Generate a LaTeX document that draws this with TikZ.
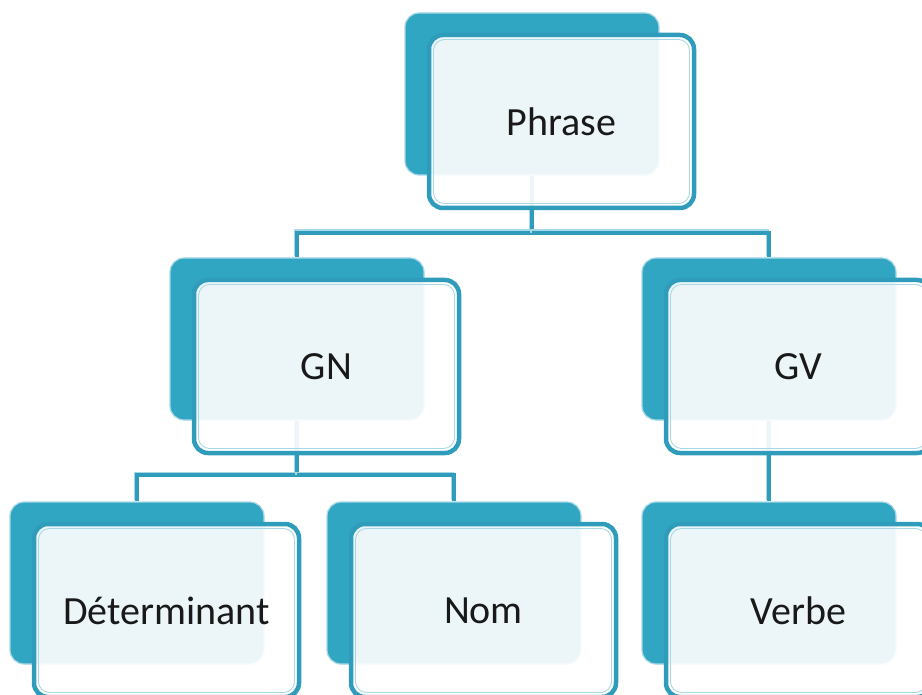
\documentclass[tikz,border=0pt]{standalone}
\usepackage{fontspec}
\setmainfont{Carlito}
\usetikzlibrary{backgrounds}
\definecolor{tealA}{HTML}{31A6C3}
\definecolor{tealB}{HTML}{2E9CBA}
\definecolor{tealL}{HTML}{A8D8E6}
\begin{document}
\begin{tikzpicture}[x=1pt,y=1pt,
 backbox/.style={rounded corners=14pt, fill=tealA, draw=tealL, line width=1.2pt, minimum width=254pt, minimum height=162pt, inner sep=0pt},
 frontbox/.style={rounded corners=14pt, fill=white, fill opacity=0.91, text opacity=1, draw=tealB, draw opacity=1, line width=4.5pt, minimum width=265pt, minimum height=173pt, inner sep=0pt, font=\fontsize{40}{48}\selectfont, text=black!90},
 innerbox/.style={rounded corners=11pt, draw=tealL, line width=0.9pt, minimum width=256pt, minimum height=164pt, inner sep=0pt},
 conn/.style={draw=tealB, line width=3.8pt, preaction={draw=tealL, line width=3.8pt, transform canvas={shift={(-1.6,1.6)}}}}
]
\useasboundingbox (0,0) rectangle (922,-695);
% Phrase
\node[backbox] (pb) at (532,-94) {};
\node[frontbox] (pf) at (561.5,-121.5) {Phrase};
\node[innerbox] (pi) at (pf.center) {};
% GN
\node[backbox] (gnb) at (297,-339) {};
\node[frontbox] (gnf) at (326.5,-366.5) {GN};
\node[innerbox] (gni) at (gnf.center) {};
% GV
\node[backbox] (gvb) at (769,-339) {};
\node[frontbox] (gvf) at (798.5,-366.5) {GV};
\node[innerbox] (gvi) at (gvf.center) {};
% Determinant
\node[backbox] (detb) at (137,-583) {};
\node[frontbox] (detf) at (166.5,-610.5) {Déterminant};
\node[innerbox] (deti) at (detf.center) {};
% Nom
\node[backbox] (nomb) at (454,-583) {};
\node[frontbox] (nomf) at (483.5,-610.5) {Nom};
\node[innerbox] (nomi) at (nomf.center) {};
% Verbe
\node[backbox] (verb) at (769,-583) {};
\node[frontbox] (verf) at (798.5,-610.5) {Verbe};
\node[innerbox] (veri) at (verf.center) {};
% connectors
\coordinate (j1) at (532,-233);
\coordinate (j2) at (297,-475);
\begin{scope}[on background layer]
\draw[conn] (pb.south) -- (j1) -| (gnb.north);
\draw[conn] (j1) -| (gvb.north);
\draw[conn] (gnb.south) -- (j2) -| (detb.north);
\draw[conn] (j2) -| (nomb.north);
\draw[conn] (gvb.south) -- (verb.north);
\end{scope}
\end{tikzpicture}
\end{document}
